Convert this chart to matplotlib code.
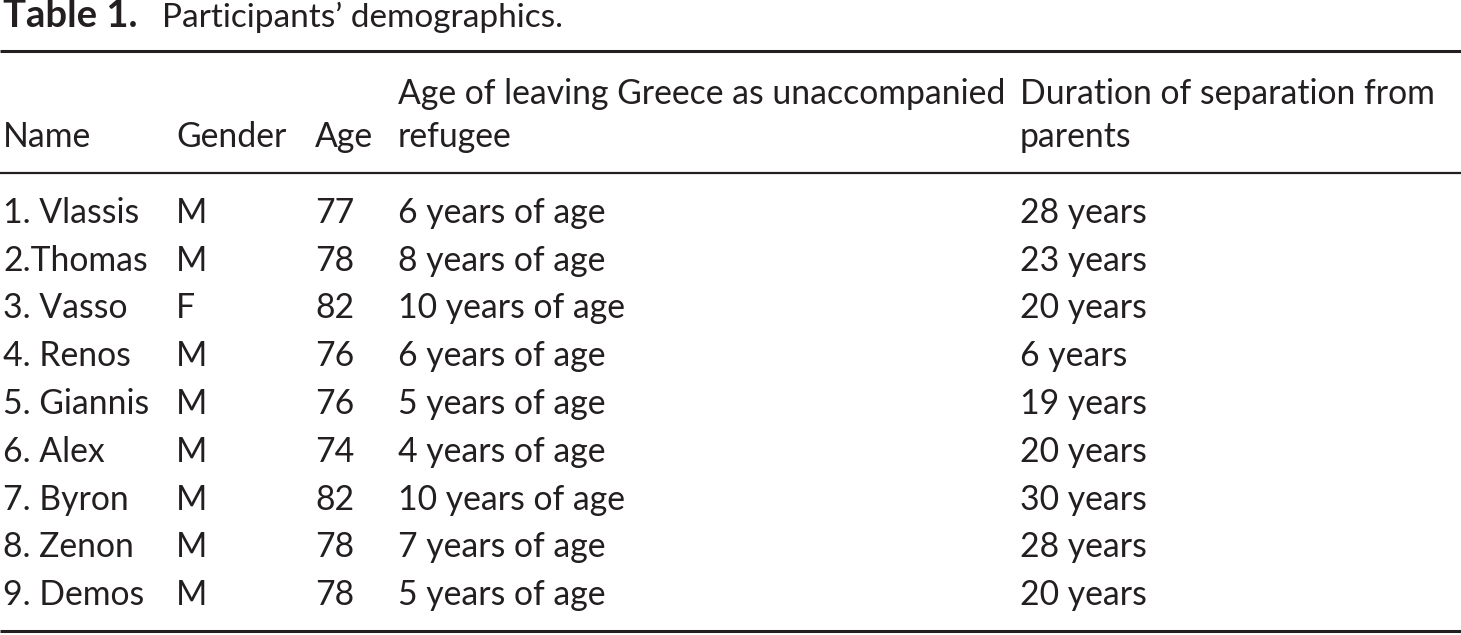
import matplotlib
matplotlib.use("Agg")
import matplotlib.pyplot as plt

title_bold = "Table 1."
title_rest = "Participants’ demographics."
headers = ["Name", "Gender", "Age", "Age of leaving Greece as unaccompanied\nrefugee", "Duration of separation from\nparents"]
names = ["1. Vlassis", "2.Thomas", "3. Vasso", "4. Renos", "5. Giannis", "6. Alex", "7. Byron", "8. Zenon", "9. Demos"]
genders = ["M", "M", "F", "M", "M", "M", "M", "M", "M"]
ages = [77, 78, 82, 76, 76, 74, 82, 78, 78]
leave_ages = ["6 years of age", "8 years of age", "10 years of age", "6 years of age", "5 years of age",
              "4 years of age", "10 years of age", "7 years of age", "5 years of age"]
durations = ["28 years", "23 years", "20 years", "6 years", "19 years", "20 years", "30 years", "28 years", "20 years"]

W, H = 1461, 635
fig = plt.figure(figsize=(W / 100, H / 100), dpi=100)
ax = fig.add_axes([0, 0, 1, 1])
ax.set_xlim(0, W)
ax.set_ylim(H, 0)
ax.axis("off")

FONT = "Lato"
COL = "#231f20"
FS = 24.3
col_x = [3, 176, 315, 398, 1020]

# title
ax.text(3, 27, title_bold, fontsize=27.5, fontweight="bold", family=FONT, color=COL, va="baseline")
ax.text(162, 27, title_rest, fontsize=24, family=FONT, color=COL, va="baseline")

# rules
ax.plot([0, W], [51, 51], color=COL, lw=2.2, solid_capstyle="butt")
ax.plot([0, W], [173, 173], color=COL, lw=1.6, solid_capstyle="butt")
ax.plot([0, W], [631, 631], color=COL, lw=2.2, solid_capstyle="butt")

# headers
for x, h in zip(col_x, headers):
    lines = h.split("\n")
    if len(lines) == 1:
        ax.text(x, 147, lines[0], fontsize=FS, family=FONT, color=COL, va="baseline")
    else:
        ax.text(x, 104, lines[0], fontsize=FS, family=FONT, color=COL, va="baseline")
        ax.text(x, 147, lines[1], fontsize=FS, family=FONT, color=COL, va="baseline")

# body
y0, dy = 223, 47.75
for i in range(len(names)):
    y = y0 + i * dy
    row = [names[i], genders[i], str(ages[i]), leave_ages[i], durations[i]]
    for x, v in zip(col_x, row):
        ax.text(x, y, v, fontsize=FS, family=FONT, color=COL, va="baseline")

fig.savefig("out.png", dpi=100, facecolor="white")
